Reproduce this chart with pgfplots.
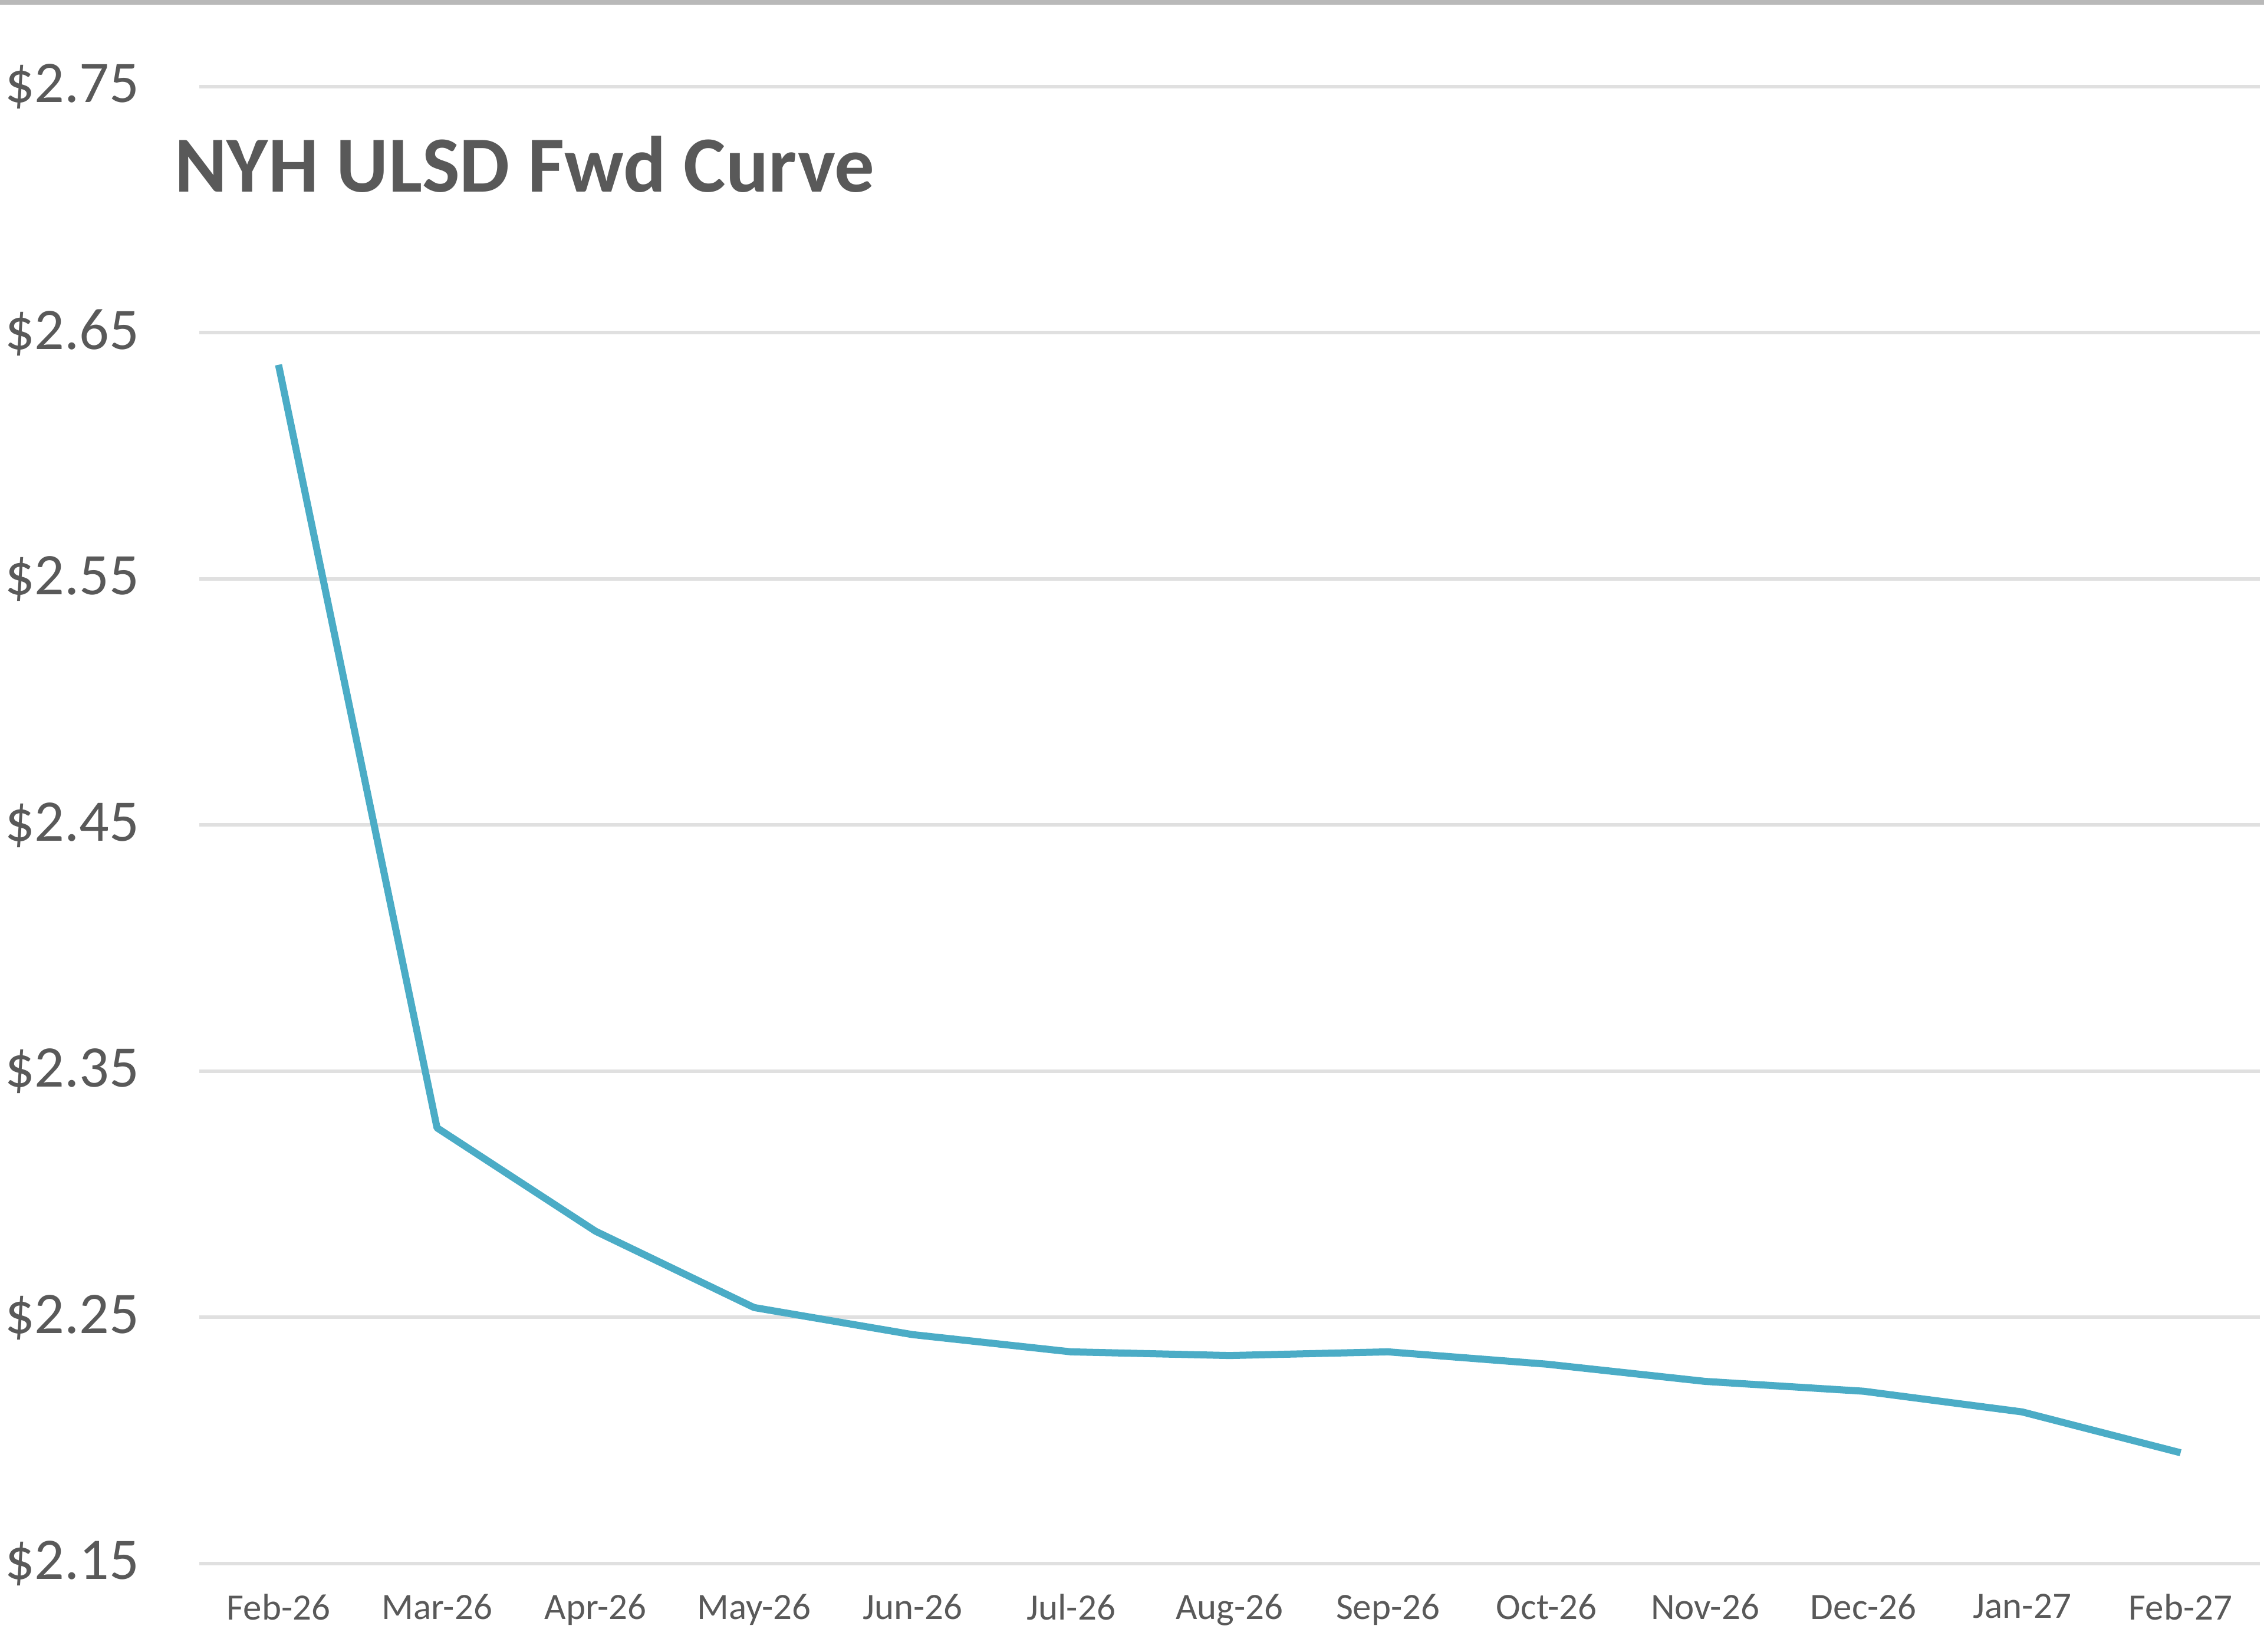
\documentclass[border=0pt]{standalone}
\usepackage{fontspec}
\setmainfont{Carlito}
\usepackage{pgfplots}
\pgfplotsset{compat=1.18}
\definecolor{lineblue}{HTML}{4BACC6}
\definecolor{txtgray}{HTML}{595959}
\definecolor{gridgray}{HTML}{E0E0E0}
\begin{document}
\begin{tikzpicture}
\begin{axis}[
  scale only axis,
  width=349.5pt, height=250.5pt,
  xmin=-0.5, xmax=12.5,
  ymin=2.15, ymax=2.75,
  axis line style={draw=none},
  major tick length=0pt,
  xtick={0,1,2,3,4,5,6,7,8,9,10,11,12},
  xticklabels={Feb-26,Mar-26,Apr-26,May-26,Jun-26,Jul-26,Aug-26,Sep-26,Oct-26,Nov-26,Dec-26,Jan-27,Feb-27},
  ytick={2.15,2.25,2.35,2.45,2.55,2.65,2.75},
  yticklabels={\$2.15,\$2.25,\$2.35,\$2.45,\$2.55,\$2.65,\$2.75},
  ymajorgrids,
  grid style={gridgray, line width=0.6pt},
  yticklabel style={anchor=east, inner sep=0pt, xshift=-10pt, font=\fontsize{10}{12}\selectfont, text=txtgray},
  xticklabel style={anchor=north, inner sep=0pt, yshift=-5pt, font=\fontsize{6.3}{7.5}\selectfont, text=txtgray},
  clip=false,
]
\addplot[lineblue, line width=1.2pt, line join=round] coordinates {
(0,2.637) (1,2.327) (2,2.285) (3,2.254) (4,2.243) (5,2.236) (6,2.2345)
(7,2.236) (8,2.231) (9,2.224) (10,2.220) (11,2.2116) (12,2.195)
};
\end{axis}
\node[anchor=base west, inner sep=0pt, text=txtgray, font=\fontsize{13.5}{16}\selectfont\bfseries] at (-4.4pt,232.6pt) {NYH ULSD Fwd Curve};
\draw[color=gray!55, line width=0.8pt] (-33.8pt,264.8pt) -- (350.2pt,264.8pt);
\pgfresetboundingbox
\useasboundingbox (-33.8pt,-15pt) rectangle (350.2pt,265.2pt);
\end{tikzpicture}
\end{document}
